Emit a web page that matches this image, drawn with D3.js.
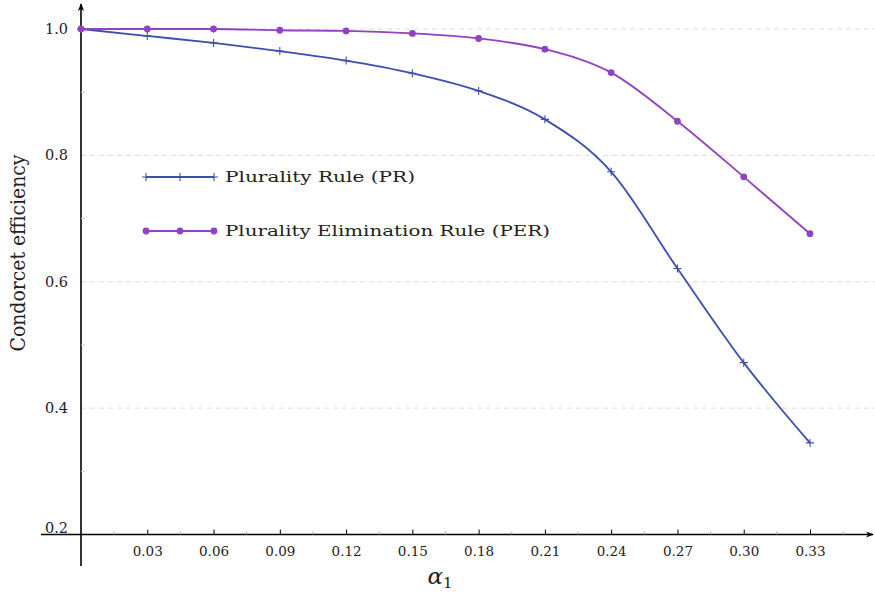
<!DOCTYPE html>
<html>
<head>
<meta charset="utf-8">
<script src="https://cdn.jsdelivr.net/npm/d3@7"></script>
<style>
  html, body { margin: 0; padding: 0; background: #fff; }
  svg { display: block; }
  text { font-family: "DejaVu Serif", serif; fill: #222; }
</style>
</head>
<body>
<svg id="chart" width="875" height="592"></svg>
<script>
// Share of first-place support for the leading candidate
const alpha = [0, 0.03, 0.06, 0.09, 0.12, 0.15, 0.18, 0.21, 0.24, 0.27, 0.30, 0.33];
// Condorcet efficiency per rule
const pluralityRule = [1.0, 0.989, 0.978, 0.965, 0.950, 0.930, 0.902, 0.857, 0.774, 0.621, 0.472, 0.345];
const pluralityElimination = [1.0, 1.0, 1.0, 0.998, 0.997, 0.993, 0.985, 0.968, 0.931, 0.854, 0.766, 0.676];
const xTickValues = [0.03, 0.06, 0.09, 0.12, 0.15, 0.18, 0.21, 0.24, 0.27, 0.30, 0.33];
const xTickLabels = ["0.03", "0.06", "0.09", "0.12", "0.15", "0.18", "0.21", "0.24", "0.27", "0.30", "0.33"];
const yTickValues = [0.2, 0.4, 0.6, 0.8, 1.0];
const yTickLabels = ["0.2", "0.4", "0.6", "0.8", "1.0"];
const seriesNames = ["Plurality Rule (PR)", "Plurality Elimination Rule (PER)"];

const blue = "#3d4fae";
const purple = "#9141c1";
const serif = "DejaVu Serif, serif";

const svg = d3.select("#chart");
const x = d3.scaleLinear().domain([0, 0.33]).range([81, 810]);
const y = d3.scaleLinear().domain([0.2, 1.0]).range([534.5, 29]);

// dashed horizontal grid
svg.append("g").selectAll("line")
  .data([0.4, 0.6, 0.8, 1.0])
  .join("line")
  .attr("x1", x(0)).attr("x2", 875)
  .attr("y1", d => y(d)).attr("y2", d => y(d))
  .attr("stroke", "#dcdcdc").attr("stroke-width", 1)
  .attr("stroke-dasharray", "5,4");

// arrow marker for the axes
svg.append("defs").append("marker")
  .attr("id", "arrow").attr("viewBox", "0 0 10 10")
  .attr("refX", 9).attr("refY", 5)
  .attr("markerWidth", 8).attr("markerHeight", 8)
  .attr("markerUnits", "userSpaceOnUse")
  .attr("orient", "auto")
  .append("path").attr("d", "M0,1 L10,5 L0,9 L3,5 Z").attr("fill", "#000");

// x axis line
svg.append("line")
  .attr("x1", 41).attr("x2", 873)
  .attr("y1", y(0.2)).attr("y2", y(0.2))
  .attr("stroke", "#000").attr("stroke-width", 1.6)
  .attr("marker-end", "url(#arrow)");
// y axis line
svg.append("line")
  .attr("x1", x(0)).attr("x2", x(0))
  .attr("y1", 566).attr("y2", 4)
  .attr("stroke", "#000").attr("stroke-width", 1.6)
  .attr("marker-end", "url(#arrow)");

// x ticks (major + minor) and labels
const xAxis = d3.axisBottom(x).tickValues(xTickValues)
  .tickFormat((d, i) => xTickLabels[i]).tickSize(-5).tickPadding(12);
const gx = svg.append("g").attr("transform", `translate(0,${y(0.2)})`).call(xAxis)
  .attr("font-family", serif);
gx.select(".domain").remove();
gx.selectAll(".tick line").attr("stroke", "#000").attr("stroke-width", 1);
gx.selectAll(".tick text").attr("font-size", 13.5).attr("fill", "#222")
  .style("font-family", serif);
const xMinor = d3.range(0.015, 0.35, 0.03);
svg.append("g").selectAll("line").data(xMinor).join("line")
  .attr("x1", d => x(d)).attr("x2", d => x(d))
  .attr("y1", y(0.2)).attr("y2", y(0.2) - 3)
  .attr("stroke", "#aaa").attr("stroke-width", 1);

// y tick labels and minor ticks
svg.append("g").selectAll("text").data(yTickValues).join("text")
  .attr("x", 68).attr("y", d => y(d))
  .attr("dy", d => d === 0.2 ? "-0.1em" : "0.35em")
  .attr("text-anchor", "end").attr("font-size", 14.5)
  .text((d, i) => yTickLabels[i]);
svg.append("g").selectAll("line").data([0.3, 0.5, 0.7, 0.9]).join("line")
  .attr("x1", x(0)).attr("x2", x(0) + 4)
  .attr("y1", d => y(d)).attr("y2", d => y(d))
  .attr("stroke", "#ccc").attr("stroke-width", 1);

// axis titles
svg.append("text")
  .attr("transform", `translate(25,253) rotate(-90)`)
  .attr("text-anchor", "middle").attr("font-size", 21)
  .attr("textLength", 197).attr("lengthAdjust", "spacingAndGlyphs")
  .text("Condorcet efficiency");
const xt = svg.append("text").attr("x", 440).attr("y", 584)
  .attr("text-anchor", "middle").attr("font-size", 23);
xt.append("tspan").attr("font-style", "italic").text("α");
xt.append("tspan").attr("font-size", 15).attr("dy", 4).text("1");

// series lines
const line = d3.line().x(d => x(d[0])).y(d => y(d[1])).curve(d3.curveMonotoneX);
const prPts = alpha.map((a, i) => [a, pluralityRule[i]]);
const perPts = alpha.map((a, i) => [a, pluralityElimination[i]]);

svg.append("path").datum(prPts).attr("d", line)
  .attr("fill", "none").attr("stroke", blue).attr("stroke-width", 1.8);
svg.append("path").datum(perPts).attr("d", line)
  .attr("fill", "none").attr("stroke", purple).attr("stroke-width", 1.8);

// cross markers for PR
svg.append("g").selectAll("path").data(prPts).join("path")
  .attr("d", d => `M${x(d[0]) - 4},${y(d[1])}h8M${x(d[0])},${y(d[1]) - 4}v8`)
  .attr("stroke", blue).attr("stroke-width", 1.1).attr("fill", "none");

// dot markers for PER
svg.append("g").selectAll("circle").data(perPts).join("circle")
  .attr("cx", d => x(d[0])).attr("cy", d => y(d[1])).attr("r", 3.4)
  .attr("fill", purple);

// legend
const legend = svg.append("g");
const legendY = [177, 231];
const lx = [146, 180, 214];
legend.append("line").attr("x1", lx[0]).attr("x2", lx[2])
  .attr("y1", legendY[0]).attr("y2", legendY[0])
  .attr("stroke", blue).attr("stroke-width", 1.8);
legend.append("g").selectAll("path").data(lx).join("path")
  .attr("d", d => `M${d - 4},${legendY[0]}h8M${d},${legendY[0] - 4}v8`)
  .attr("stroke", blue).attr("stroke-width", 1.1);
legend.append("line").attr("x1", lx[0]).attr("x2", lx[2])
  .attr("y1", legendY[1]).attr("y2", legendY[1])
  .attr("stroke", purple).attr("stroke-width", 1.8);
legend.append("g").selectAll("circle").data(lx).join("circle")
  .attr("cx", d => d).attr("cy", legendY[1]).attr("r", 3.4).attr("fill", purple);
legend.selectAll("text").data(seriesNames).join("text")
  .attr("x", 225).attr("y", (d, i) => legendY[i]).attr("dy", "0.35em")
  .attr("font-size", 15.5)
  .attr("textLength", (d, i) => i === 0 ? 190 : 325).attr("lengthAdjust", "spacingAndGlyphs")
  .text(d => d);
</script>
</body>
</html>
